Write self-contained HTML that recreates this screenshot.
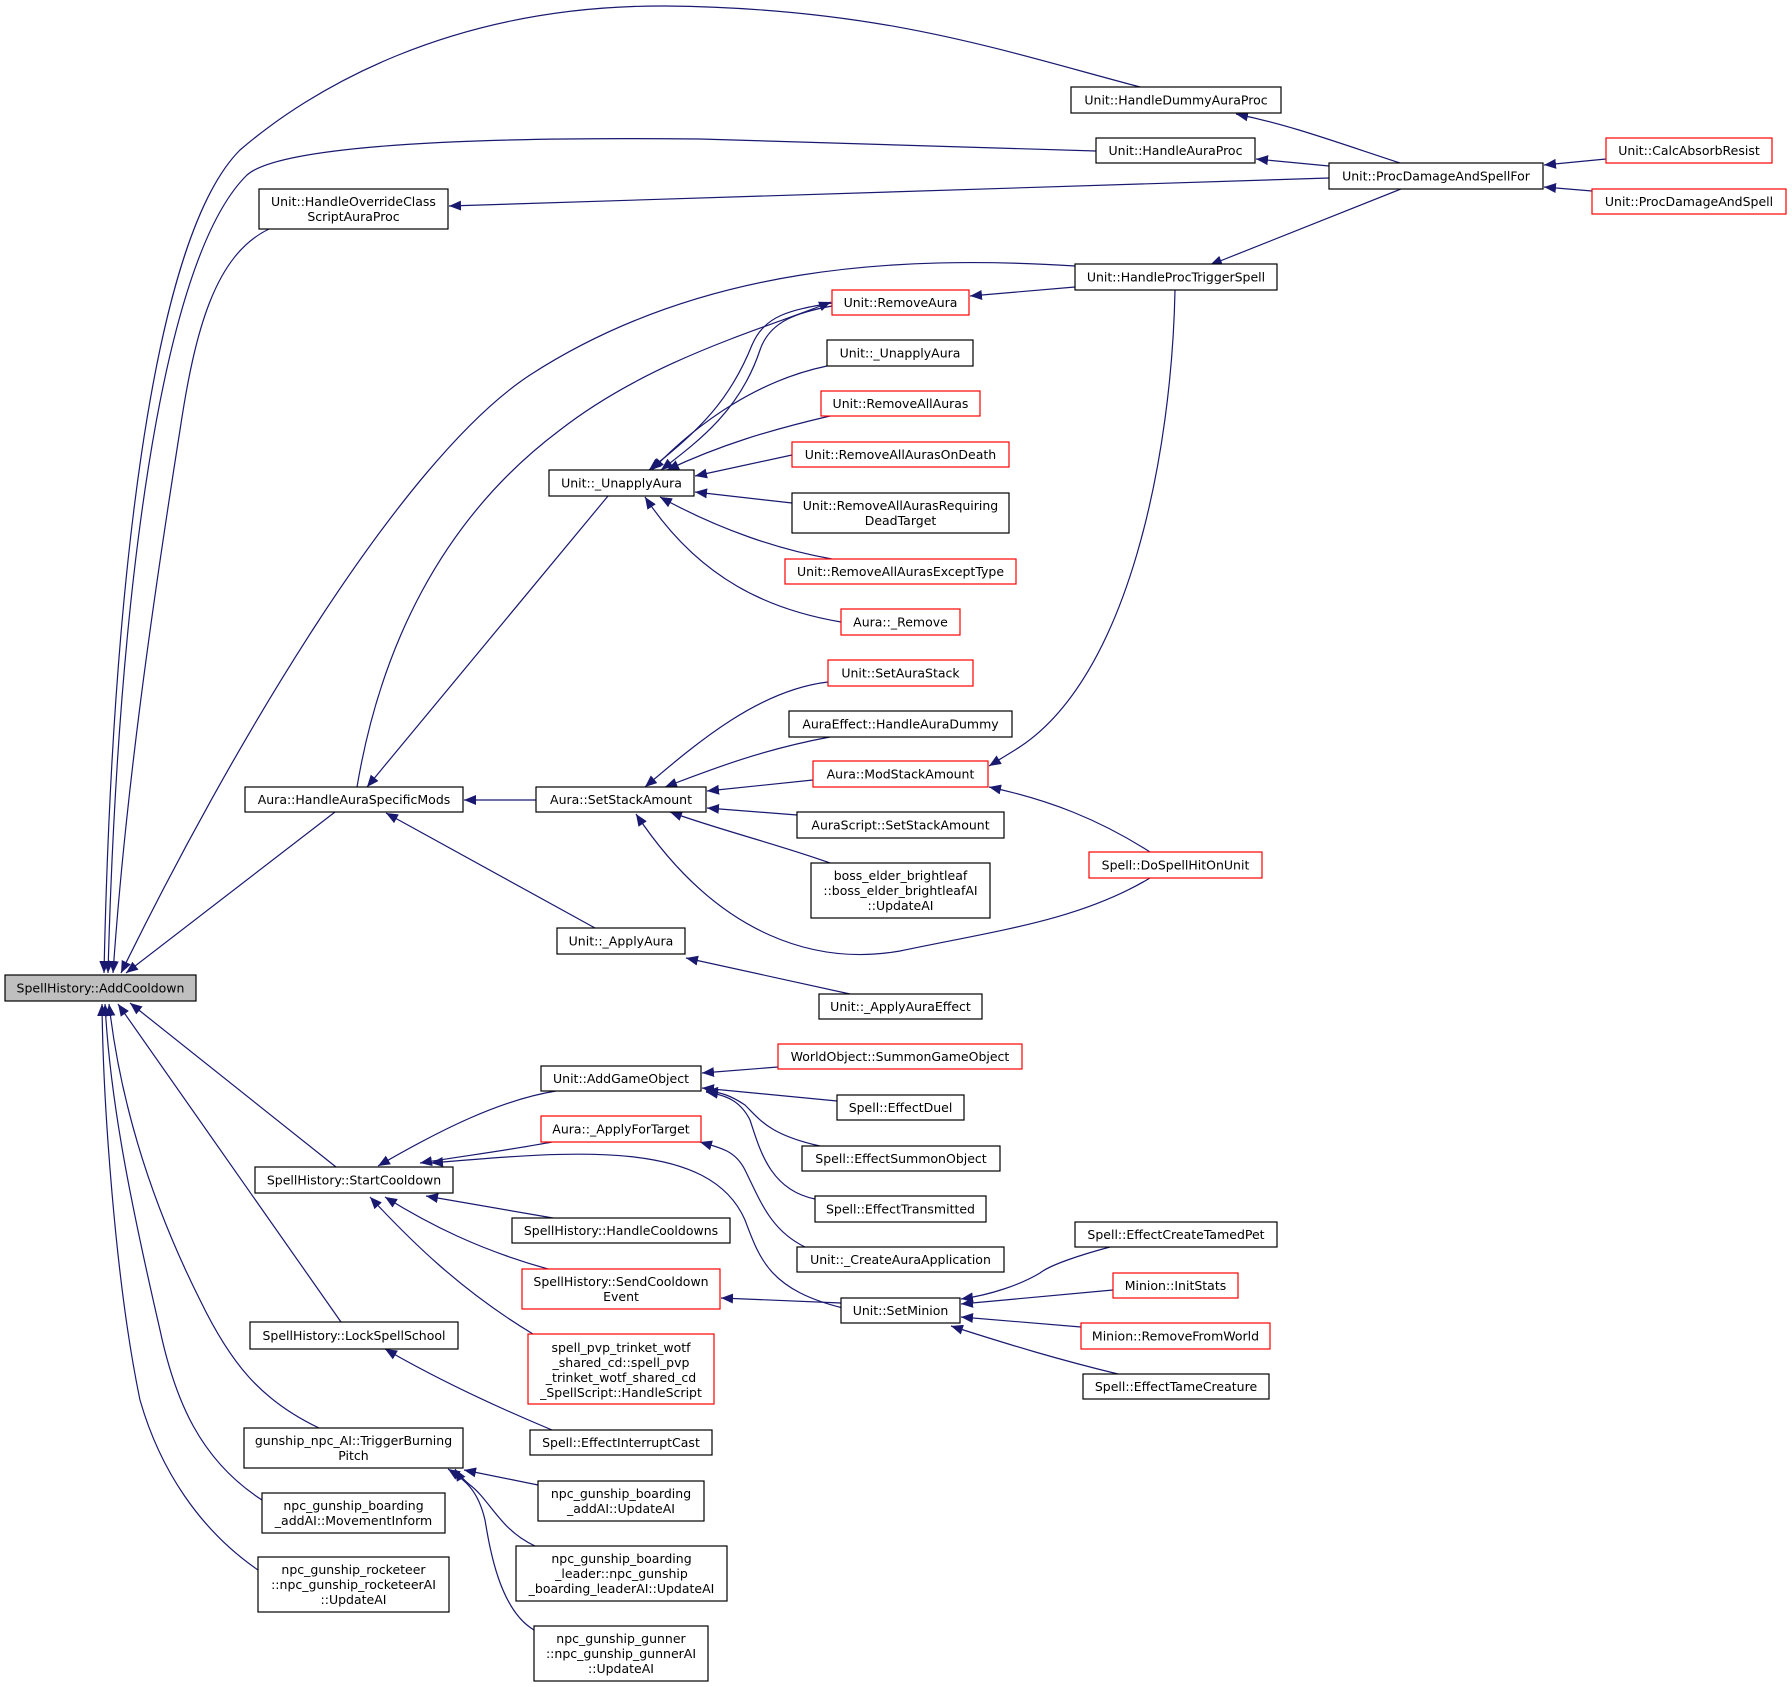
<!DOCTYPE html>
<html><head><meta charset="utf-8"><style>
html,body{margin:0;padding:0;background:#fff;}
svg{display:block;}
text{font-family:"DejaVu Sans","Liberation Sans",sans-serif;font-size:12.5px;fill:#000;text-anchor:middle;}
.n{fill:#fff;stroke:#000;stroke-width:1.2;}
.r{fill:#fff;stroke:#ff0000;stroke-width:1.2;}
.g{fill:#bfbfbf;stroke:#000;stroke-width:1.2;}
path.e{fill:none;stroke:#191970;stroke-width:1.2;marker-end:url(#a);}
</style></head><body>
<svg width="1792" height="1687" viewBox="0 0 1792 1687" xmlns="http://www.w3.org/2000/svg">
<defs><marker id="a" markerUnits="userSpaceOnUse" markerWidth="12" markerHeight="10" refX="12" refY="5" orient="auto"><path d="M0,0 L12,5 L0,10 z" fill="#191970"/></marker></defs>
<g>
<path class="e" d="M1140,87 C1000,50 880,8 665,6 C450,5 310,90 240,150 C150,240 112,600 104,973"/>
<path class="e" d="M1096,151 L700,139 C420,136 275,150 247,175 C160,260 118,600 108,973"/>
<path class="e" d="M269,229 C215,255 195,330 180,430 C150,620 125,800 113,973"/>
<path class="e" d="M1329,178 L449,206"/>
<path class="e" d="M1075,266 C900,255 700,265 530,375 C400,460 230,750 121,973"/>
<path class="e" d="M335,812 L126,973"/>
<path class="e" d="M336,1167 L130,1003"/>
<path class="e" d="M341,1322 L118,1004"/>
<path class="e" d="M319,1428 C260,1400 230,1362 200,1300 C150,1200 120,1100 109,1004"/>
<path class="e" d="M262,1500 C200,1460 175,1400 160,1330 C130,1200 110,1100 105,1004"/>
<path class="e" d="M258,1570 C200,1530 160,1470 140,1400 C115,1280 103,1100 102,1004"/>
<path class="e" d="M1400,163 C1330,140 1290,125 1236,114"/>
<path class="e" d="M1329,166 L1256,159"/>
<path class="e" d="M1606,159 L1544,165"/>
<path class="e" d="M1592,191 L1544,187"/>
<path class="e" d="M1401,189 L1210,265"/>
<path class="e" d="M1075,287 L970,296"/>
<path class="e" d="M1175,290 C1172,450 1130,680 1015,750 L989,766"/>
<path class="e" d="M357,787 C380,650 440,520 560,430 C650,360 760,330 831,302"/>
<path class="e" d="M832,303 C790,310 765,315 752,345 C730,400 700,430 649,470"/>
<path class="e" d="M832,306 C800,312 770,320 760,350 C740,410 700,440 661,470"/>
<path class="e" d="M827,366 C760,380 700,420 652,470"/>
<path class="e" d="M830,416 C770,430 720,445 667,470"/>
<path class="e" d="M792,455 L695,476"/>
<path class="e" d="M792,503 L695,492"/>
<path class="e" d="M832,559 C780,550 720,530 660,497"/>
<path class="e" d="M841,622 C770,610 700,580 645,497"/>
<path class="e" d="M608,496 L367,787"/>
<path class="e" d="M536,800 L464,800"/>
<path class="e" d="M595,928 L386,813"/>
<path class="e" d="M828,682 C760,690 700,740 645,787"/>
<path class="e" d="M830,737 C760,750 710,770 665,787"/>
<path class="e" d="M813,780 L707,791"/>
<path class="e" d="M797,815 L707,808"/>
<path class="e" d="M830,863 C780,845 720,830 670,812"/>
<path class="e" d="M1150,878 C1080,920 1000,930 900,951 C820,965 720,940 636,814"/>
<path class="e" d="M1150,852 C1100,820 1050,800 989,787"/>
<path class="e" d="M850,994 L686,958"/>
<path class="e" d="M556,1091 C500,1100 440,1130 378,1166"/>
<path class="e" d="M552,1142 C510,1150 470,1155 420,1163"/>
<path class="e" d="M843,1308 C770,1290 760,1260 745,1220 C710,1140 580,1150 431,1163"/>
<path class="e" d="M553,1218 L426,1196"/>
<path class="e" d="M548,1269 C480,1250 430,1225 385,1197"/>
<path class="e" d="M533,1334 C460,1290 410,1240 370,1197"/>
<path class="e" d="M778,1067 L702,1073"/>
<path class="e" d="M837,1101 L702,1088"/>
<path class="e" d="M820,1146 C770,1135 760,1120 745,1105 C730,1095 720,1092 706,1091"/>
<path class="e" d="M815,1199 C770,1190 760,1150 750,1120 C740,1100 725,1095 706,1092"/>
<path class="e" d="M805,1247 C770,1230 760,1200 745,1170 C735,1150 720,1148 700,1142"/>
<path class="e" d="M841,1303 L721,1298"/>
<path class="e" d="M1110,1247 C1080,1255 1050,1265 1040,1273 C1020,1285 990,1295 961,1299"/>
<path class="e" d="M1113,1290 L961,1304"/>
<path class="e" d="M1081,1327 L961,1317"/>
<path class="e" d="M1118,1374 C1060,1360 1010,1345 951,1326"/>
<path class="e" d="M552,1430 C480,1400 430,1375 385,1349"/>
<path class="e" d="M538,1485 L464,1470"/>
<path class="e" d="M535,1546 C500,1530 490,1500 470,1485 C462,1478 458,1474 455,1469"/>
<path class="e" d="M534,1630 C500,1610 490,1550 485,1520 C478,1490 465,1480 448,1469"/>
</g>
<g>
<rect class="g" x="5" y="975" width="191" height="26"/><text x="100.5" y="992.5">SpellHistory::AddCooldown</text>
<rect class="n" x="1071" y="87" width="210" height="26"/><text x="1176" y="104.5">Unit::HandleDummyAuraProc</text>
<rect class="n" x="1096" y="138" width="159" height="25"/><text x="1175.5" y="155">Unit::HandleAuraProc</text>
<rect class="n" x="1329" y="163" width="214" height="26"/><text x="1436" y="180.5">Unit::ProcDamageAndSpellFor</text>
<rect class="r" x="1606" y="138" width="166" height="25"/><text x="1689" y="155">Unit::CalcAbsorbResist</text>
<rect class="r" x="1592" y="189" width="194" height="25"/><text x="1689" y="206">Unit::ProcDamageAndSpell</text>
<rect class="n" x="259" y="189" width="189" height="40"/><text x="353.5" y="206">Unit::HandleOverrideClass</text><text x="353.5" y="221">ScriptAuraProc</text>
<rect class="n" x="1075" y="264" width="202" height="26"/><text x="1176" y="281.5">Unit::HandleProcTriggerSpell</text>
<rect class="r" x="832" y="290" width="137" height="25"/><text x="900.5" y="307">Unit::RemoveAura</text>
<rect class="n" x="827" y="340" width="146" height="26"/><text x="900" y="357.5">Unit::_UnapplyAura</text>
<rect class="r" x="821" y="391" width="159" height="25"/><text x="900.5" y="408">Unit::RemoveAllAuras</text>
<rect class="r" x="792" y="442" width="217" height="25"/><text x="900.5" y="459">Unit::RemoveAllAurasOnDeath</text>
<rect class="n" x="792" y="493" width="217" height="40"/><text x="900.5" y="510">Unit::RemoveAllAurasRequiring</text><text x="900.5" y="525">DeadTarget</text>
<rect class="r" x="785" y="559" width="231" height="25"/><text x="900.5" y="576">Unit::RemoveAllAurasExceptType</text>
<rect class="r" x="841" y="609" width="119" height="26"/><text x="900.5" y="626.5">Aura::_Remove</text>
<rect class="r" x="828" y="660" width="145" height="26"/><text x="900.5" y="677.5">Unit::SetAuraStack</text>
<rect class="n" x="789" y="711" width="223" height="26"/><text x="900.5" y="728.5">AuraEffect::HandleAuraDummy</text>
<rect class="r" x="813" y="761" width="175" height="26"/><text x="900.5" y="778.5">Aura::ModStackAmount</text>
<rect class="n" x="797" y="812" width="207" height="26"/><text x="900.5" y="829.5">AuraScript::SetStackAmount</text>
<rect class="n" x="549" y="470" width="145" height="26"/><text x="621.5" y="487.5">Unit::_UnapplyAura</text>
<rect class="n" x="245" y="787" width="218" height="25"/><text x="354" y="804">Aura::HandleAuraSpecificMods</text>
<rect class="n" x="536" y="787" width="170" height="25"/><text x="621" y="804">Aura::SetStackAmount</text>
<rect class="n" x="811" y="863" width="179" height="55"/><text x="900.5" y="880">boss_elder_brightleaf</text><text x="900.5" y="895">::boss_elder_brightleafAI</text><text x="900.5" y="910">::UpdateAI</text>
<rect class="r" x="1089" y="852" width="173" height="26"/><text x="1175.5" y="869.5">Spell::DoSpellHitOnUnit</text>
<rect class="n" x="557" y="928" width="128" height="26"/><text x="621" y="945.5">Unit::_ApplyAura</text>
<rect class="n" x="819" y="994" width="163" height="25"/><text x="900.5" y="1011">Unit::_ApplyAuraEffect</text>
<rect class="n" x="541" y="1066" width="160" height="25"/><text x="621" y="1083">Unit::AddGameObject</text>
<rect class="r" x="778" y="1044" width="244" height="25"/><text x="900" y="1061">WorldObject::SummonGameObject</text>
<rect class="n" x="837" y="1095" width="127" height="25"/><text x="900.5" y="1112">Spell::EffectDuel</text>
<rect class="n" x="802" y="1146" width="198" height="25"/><text x="901" y="1163">Spell::EffectSummonObject</text>
<rect class="n" x="815" y="1196" width="171" height="26"/><text x="900.5" y="1213.5">Spell::EffectTransmitted</text>
<rect class="r" x="541" y="1116" width="160" height="26"/><text x="621" y="1133.5">Aura::_ApplyForTarget</text>
<rect class="n" x="255" y="1167" width="198" height="26"/><text x="354" y="1184.5">SpellHistory::StartCooldown</text>
<rect class="n" x="512" y="1218" width="218" height="25"/><text x="621" y="1235">SpellHistory::HandleCooldowns</text>
<rect class="n" x="797" y="1247" width="207" height="25"/><text x="900.5" y="1264">Unit::_CreateAuraApplication</text>
<rect class="r" x="522" y="1269" width="198" height="40"/><text x="621" y="1286">SpellHistory::SendCooldown</text><text x="621" y="1301">Event</text>
<rect class="n" x="841" y="1298" width="119" height="25"/><text x="900.5" y="1315">Unit::SetMinion</text>
<rect class="n" x="1075" y="1222" width="202" height="25"/><text x="1176" y="1239">Spell::EffectCreateTamedPet</text>
<rect class="r" x="1113" y="1273" width="125" height="25"/><text x="1175.5" y="1290">Minion::InitStats</text>
<rect class="r" x="1081" y="1323" width="189" height="26"/><text x="1175.5" y="1340.5">Minion::RemoveFromWorld</text>
<rect class="n" x="1083" y="1374" width="186" height="25"/><text x="1176" y="1391">Spell::EffectTameCreature</text>
<rect class="r" x="528" y="1334" width="186" height="70"/><text x="621" y="1352">spell_pvp_trinket_wotf</text><text x="621" y="1367">_shared_cd::spell_pvp</text><text x="621" y="1382">_trinket_wotf_shared_cd</text><text x="621" y="1397">_SpellScript::HandleScript</text>
<rect class="n" x="250" y="1322" width="208" height="27"/><text x="354" y="1340">SpellHistory::LockSpellSchool</text>
<rect class="n" x="530" y="1430" width="182" height="25"/><text x="621" y="1447">Spell::EffectInterruptCast</text>
<rect class="n" x="244" y="1428" width="219" height="40"/><text x="353.5" y="1445">gunship_npc_AI::TriggerBurning</text><text x="353.5" y="1460">Pitch</text>
<rect class="n" x="538" y="1481" width="166" height="40"/><text x="621" y="1498">npc_gunship_boarding</text><text x="621" y="1513">_addAI::UpdateAI</text>
<rect class="n" x="262" y="1493" width="183" height="40"/><text x="353.5" y="1510">npc_gunship_boarding</text><text x="353.5" y="1525">_addAI::MovementInform</text>
<rect class="n" x="258" y="1557" width="191" height="55"/><text x="353.5" y="1574">npc_gunship_rocketeer</text><text x="353.5" y="1589">::npc_gunship_rocketeerAI</text><text x="353.5" y="1604">::UpdateAI</text>
<rect class="n" x="516" y="1546" width="211" height="55"/><text x="621.5" y="1563">npc_gunship_boarding</text><text x="621.5" y="1578">_leader::npc_gunship</text><text x="621.5" y="1593">_boarding_leaderAI::UpdateAI</text>
<rect class="n" x="534" y="1626" width="174" height="55"/><text x="621" y="1643">npc_gunship_gunner</text><text x="621" y="1658">::npc_gunship_gunnerAI</text><text x="621" y="1673">::UpdateAI</text>
</g>
</svg>
</body></html>
